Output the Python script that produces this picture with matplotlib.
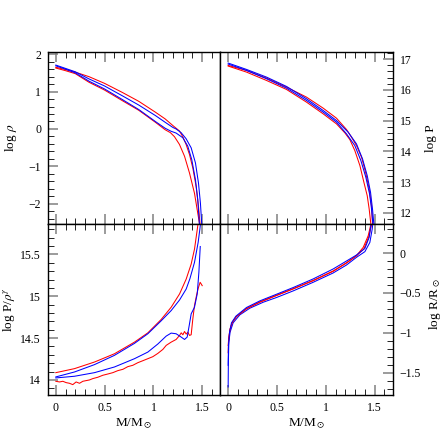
import matplotlib
matplotlib.use("Agg")
import matplotlib.pyplot as plt
from matplotlib.ticker import MultipleLocator, FuncFormatter

plt.rcParams['font.family'] = ['Liberation Serif', 'DejaVu Serif']
plt.rcParams['mathtext.fontset'] = 'stix'

# ---------------- data: top-left, log rho ----------------
rho_redA_m = [0, 0.1, 0.2, 0.34, 0.5, 0.68, 0.85, 1.02, 1.12, 1.2, 1.267, 1.301, 1.335, 1.370, 1.404, 1.438, 1.462, 1.479]
rho_redA_y = [1.65, 1.59, 1.52, 1.40, 1.22, 0.98, 0.74, 0.45, 0.27, 0.09, -0.054, -0.207, -0.414, -0.685, -1.045, -1.541, -2.081, -2.577]
rho_redB_m = [0, 0.1, 0.2, 0.34, 0.5, 0.68, 0.85, 1.02, 1.12, 1.175, 1.216, 1.267, 1.319, 1.370, 1.421, 1.455, 1.475]
rho_redB_y = [1.63, 1.56, 1.48, 1.25, 1.04, 0.76, 0.50, 0.18, -0.02, -0.10, -0.207, -0.414, -0.730, -1.180, -1.721, -2.261, -2.577]
rho_bluA_m = [0, 0.1, 0.2, 0.34, 0.5, 0.68, 0.85, 1.02, 1.12, 1.2, 1.233, 1.284, 1.335, 1.387, 1.431, 1.462, 1.482, 1.496]
rho_bluA_y = [1.71, 1.62, 1.53, 1.34, 1.15, 0.89, 0.64, 0.36, 0.18, 0.04, 0.0, -0.099, -0.261, -0.505, -0.910, -1.450, -1.991, -2.577]
rho_bluB_m = [0, 0.1, 0.2, 0.34, 0.5, 0.68, 0.85, 1.02, 1.12, 1.18, 1.233, 1.301, 1.352, 1.393, 1.431, 1.455, 1.472]
rho_bluB_y = [1.69, 1.60, 1.50, 1.28, 1.07, 0.79, 0.52, 0.20, 0.02, -0.06, -0.11, -0.234, -0.459, -0.820, -1.360, -1.901, -2.577]

# ---------------- data: top-right, log P ----------------
p_redA_m = [0, 0.188, 0.393, 0.598, 0.803, 0.974, 1.110, 1.213, 1.264, 1.315, 1.367, 1.408, 1.445, 1.469, 1.479]
p_redA_y = [16.793, 16.630, 16.380, 16.087, 15.761, 15.402, 15.076, 14.707, 14.457, 14.185, 13.804, 13.315, 12.772, 12.228, 11.630]
p_redB_m = [0, 0.188, 0.393, 0.598, 0.803, 0.974, 1.110, 1.196, 1.247, 1.298, 1.350, 1.391, 1.425, 1.445, 1.462]
p_redB_y = [16.772, 16.576, 16.304, 16.011, 15.598, 15.217, 14.891, 14.598, 14.380, 14.022, 13.533, 12.989, 12.554, 12.120, 11.630]
p_bluA_m = [0, 0.188, 0.393, 0.598, 0.803, 0.974, 1.110, 1.230, 1.315, 1.377, 1.425, 1.459, 1.479, 1.493]
p_bluA_y = [16.870, 16.663, 16.413, 16.109, 15.707, 15.326, 15.0, 14.620, 14.239, 13.750, 13.207, 12.663, 12.120, 11.630]
p_bluB_m = [0, 0.188, 0.393, 0.598, 0.803, 0.974, 1.110, 1.213, 1.298, 1.360, 1.411, 1.449, 1.469, 1.483]
p_bluB_y = [16.837, 16.630, 16.359, 16.054, 15.652, 15.272, 14.946, 14.565, 14.185, 13.696, 13.152, 12.609, 12.120, 11.630]

# ---------------- data: bottom-left, log P/rho^gamma ----------------
k_redA_m = [0, 0.191, 0.396, 0.601, 0.806, 0.943, 1.079, 1.182, 1.268, 1.336, 1.387, 1.421, 1.445, 1.459, 1.470]
k_redA_y = [14.087, 14.135, 14.214, 14.313, 14.452, 14.563, 14.722, 14.869, 15.028, 15.206, 15.385, 15.563, 15.762, 15.881, 16.0]
k_redB_m = [0, 0.038, 0.072, 0.106, 0.140, 0.174, 0.208, 0.243, 0.277, 0.311, 0.345, 0.379, 0.430, 0.482, 0.533, 0.584, 0.635, 0.687, 0.738, 0.789, 0.840, 0.892, 0.943, 0.994, 1.045, 1.097, 1.131, 1.182, 1.233, 1.268, 1.285, 1.302, 1.319, 1.336, 1.353, 1.370, 1.387, 1.404, 1.421, 1.445, 1.462, 1.479, 1.490, 1.500]
k_redB_y = [13.984, 13.976, 13.984, 13.968, 13.960, 13.944, 13.976, 13.960, 13.984, 13.992, 14.0, 14.016, 14.032, 14.056, 14.071, 14.087, 14.111, 14.127, 14.159, 14.175, 14.206, 14.230, 14.254, 14.278, 14.317, 14.365, 14.413, 14.452, 14.484, 14.532, 14.563, 14.540, 14.579, 14.548, 14.571, 14.532, 14.540, 14.730, 14.889, 15.028, 15.107, 15.167, 15.147, 15.127]
k_bluA_m = [0, 0.191, 0.396, 0.601, 0.806, 0.943, 1.079, 1.182, 1.268, 1.336, 1.374, 1.421, 1.459, 1.476, 1.493]
k_bluA_y = [14.036, 14.095, 14.183, 14.294, 14.437, 14.552, 14.706, 14.829, 14.956, 15.087, 15.210, 15.405, 15.647, 15.802, 15.964]
k_bluB_m = [0, 0.191, 0.396, 0.601, 0.806, 0.943, 1.045, 1.131, 1.182, 1.233, 1.285, 1.319, 1.346, 1.367, 1.387, 1.421, 1.449, 1.466, 1.480]
k_bluB_y = [14.024, 14.044, 14.087, 14.155, 14.254, 14.333, 14.429, 14.524, 14.560, 14.552, 14.512, 14.484, 14.512, 14.651, 14.790, 14.869, 15.028, 15.286, 15.595]

# ---------------- data: bottom-right, log R/Rsun ----------------
r_redA_m = [0, 0.007, 0.020, 0.044, 0.085, 0.188, 0.325, 0.495, 0.666, 0.871, 1.076, 1.213, 1.315, 1.384, 1.435, 1.459, 1.472]
r_redA_y = [-1.158, -1.054, -0.950, -0.867, -0.796, -0.700, -0.617, -0.533, -0.450, -0.346, -0.229, -0.125, -0.033, 0.071, 0.217, 0.342, 0.404]
r_redB_m = [0, 0.005, 0.017, 0.040, 0.082, 0.188, 0.325, 0.495, 0.666, 0.871, 1.076, 1.213, 1.315, 1.390, 1.440, 1.465, 1.478]
r_redB_y = [-1.250, -1.100, -0.970, -0.875, -0.800, -0.695, -0.612, -0.530, -0.448, -0.345, -0.225, -0.122, -0.035, 0.050, 0.200, 0.330, 0.404]
r_bluA_m = [0, 0.002, 0.007, 0.020, 0.051, 0.120, 0.222, 0.359, 0.495, 0.666, 0.871, 1.076, 1.213, 1.315, 1.401, 1.452, 1.476, 1.486]
r_bluA_y = [-1.679, -1.367, -1.117, -0.992, -0.875, -0.775, -0.692, -0.617, -0.558, -0.475, -0.367, -0.250, -0.150, -0.054, 0.017, 0.133, 0.300, 0.404]
r_bluB_m = [0, 0.003, 0.014, 0.034, 0.079, 0.188, 0.325, 0.495, 0.666, 0.871, 1.076, 1.213, 1.315, 1.401, 1.445, 1.469]
r_bluB_y = [-1.408, -1.158, -0.992, -0.875, -0.792, -0.683, -0.600, -0.517, -0.433, -0.325, -0.200, -0.100, -0.025, 0.058, 0.196, 0.404]

xticks = [0, 0.5, 1, 1.5]
RED = '#ff0000'
BLUE = '#0000ff'
LW = 0.75

fig = plt.figure(figsize=(4.43, 4.43), dpi=100)
fig.subplots_adjust(left=48/443, right=392.7/443, top=1-52/443, bottom=1-395/443, wspace=0, hspace=0)
axs = fig.subplots(2, 2)
(ax1, ax2), (ax3, ax4) = axs

fmt = FuncFormatter(lambda v, p: ('%g' % v).replace('-', '\u2212'))

def style(ax, ylim, ymaj, ymin, side):
    ax.set_xlim(-0.08, 1.686)
    ax.set_ylim(*ylim)
    ax.set_xticks(xticks)
    ax.xaxis.set_minor_locator(MultipleLocator(0.1))
    ax.yaxis.set_major_locator(MultipleLocator(ymaj))
    ax.yaxis.set_minor_locator(MultipleLocator(ymin))
    ax.xaxis.set_major_formatter(fmt)
    ax.yaxis.set_major_formatter(fmt)
    for s in ax.spines.values():
        s.set_linewidth(1.0)
    left = side == 'left'
    ax.tick_params(which='both', direction='in', top=True, bottom=True,
                   left=left, right=not left, labelleft=left, labelright=not left,
                   labelsize=8.5)
    ax.tick_params(which='major', length=7, width=1.1, color='#808080', pad=5)
    ax.tick_params(which='minor', length=4, width=0.6, color='black')

style(ax1, (-2.53, 2.06), 1, 0.2, 'left')
style(ax2, (11.65, 17.23), 1, 0.2, 'right')
style(ax3, (13.82, 15.87), 0.5, 0.1, 'left')
style(ax4, (-1.78, 0.37), 0.5, 0.1, 'right')
for ax in (ax1, ax2):
    ax.tick_params(labelbottom=False)

ax1.plot(rho_redA_m, rho_redA_y, color=RED, lw=LW)
ax1.plot(rho_redB_m, rho_redB_y, color=RED, lw=LW)
ax1.plot(rho_bluA_m, rho_bluA_y, color=BLUE, lw=LW)
ax1.plot(rho_bluB_m, rho_bluB_y, color=BLUE, lw=LW)

ax2.plot(p_redA_m, p_redA_y, color=RED, lw=LW)
ax2.plot(p_redB_m, p_redB_y, color=RED, lw=LW)
ax2.plot(p_bluA_m, p_bluA_y, color=BLUE, lw=LW)
ax2.plot(p_bluB_m, p_bluB_y, color=BLUE, lw=LW)

ax3.plot(k_redA_m, k_redA_y, color=RED, lw=LW)
ax3.plot(k_redB_m, k_redB_y, color=RED, lw=LW)
ax3.plot(k_bluA_m, k_bluA_y, color=BLUE, lw=LW)
ax3.plot(k_bluB_m, k_bluB_y, color=BLUE, lw=LW)

ax4.plot(r_redB_m, r_redB_y, color=RED, lw=LW)
ax4.plot(r_bluA_m, r_bluA_y, color=BLUE, lw=LW)
ax4.plot(r_redA_m, r_redA_y, color=RED, lw=LW)
ax4.plot(r_bluB_m, r_bluB_y, color=BLUE, lw=LW)

LS = 9.5
ax1.set_ylabel(r'log $\rho$', fontsize=LS)
ax1.yaxis.set_label_coords(-0.168, 0.5)
ax2.yaxis.set_label_position('right')
ax2.set_ylabel('log P', fontsize=LS)
ax2.yaxis.set_label_coords(1.19, 0.5)
ax3.set_ylabel(r'log P/$\rho^\gamma$', fontsize=LS)
ax3.yaxis.set_label_coords(-0.178, 0.5)
ax4.yaxis.set_label_position('right')
ax4.set_ylabel(r'log R/R$_\odot$', fontsize=LS)
ax4.yaxis.set_label_coords(1.2, 0.53)
for ax in (ax3, ax4):
    ax.set_xlabel(r'M/M$_\odot$', fontsize=LS)
    ax.xaxis.set_label_coords(0.5, -0.125)

fig.savefig('out.png', dpi=100)
